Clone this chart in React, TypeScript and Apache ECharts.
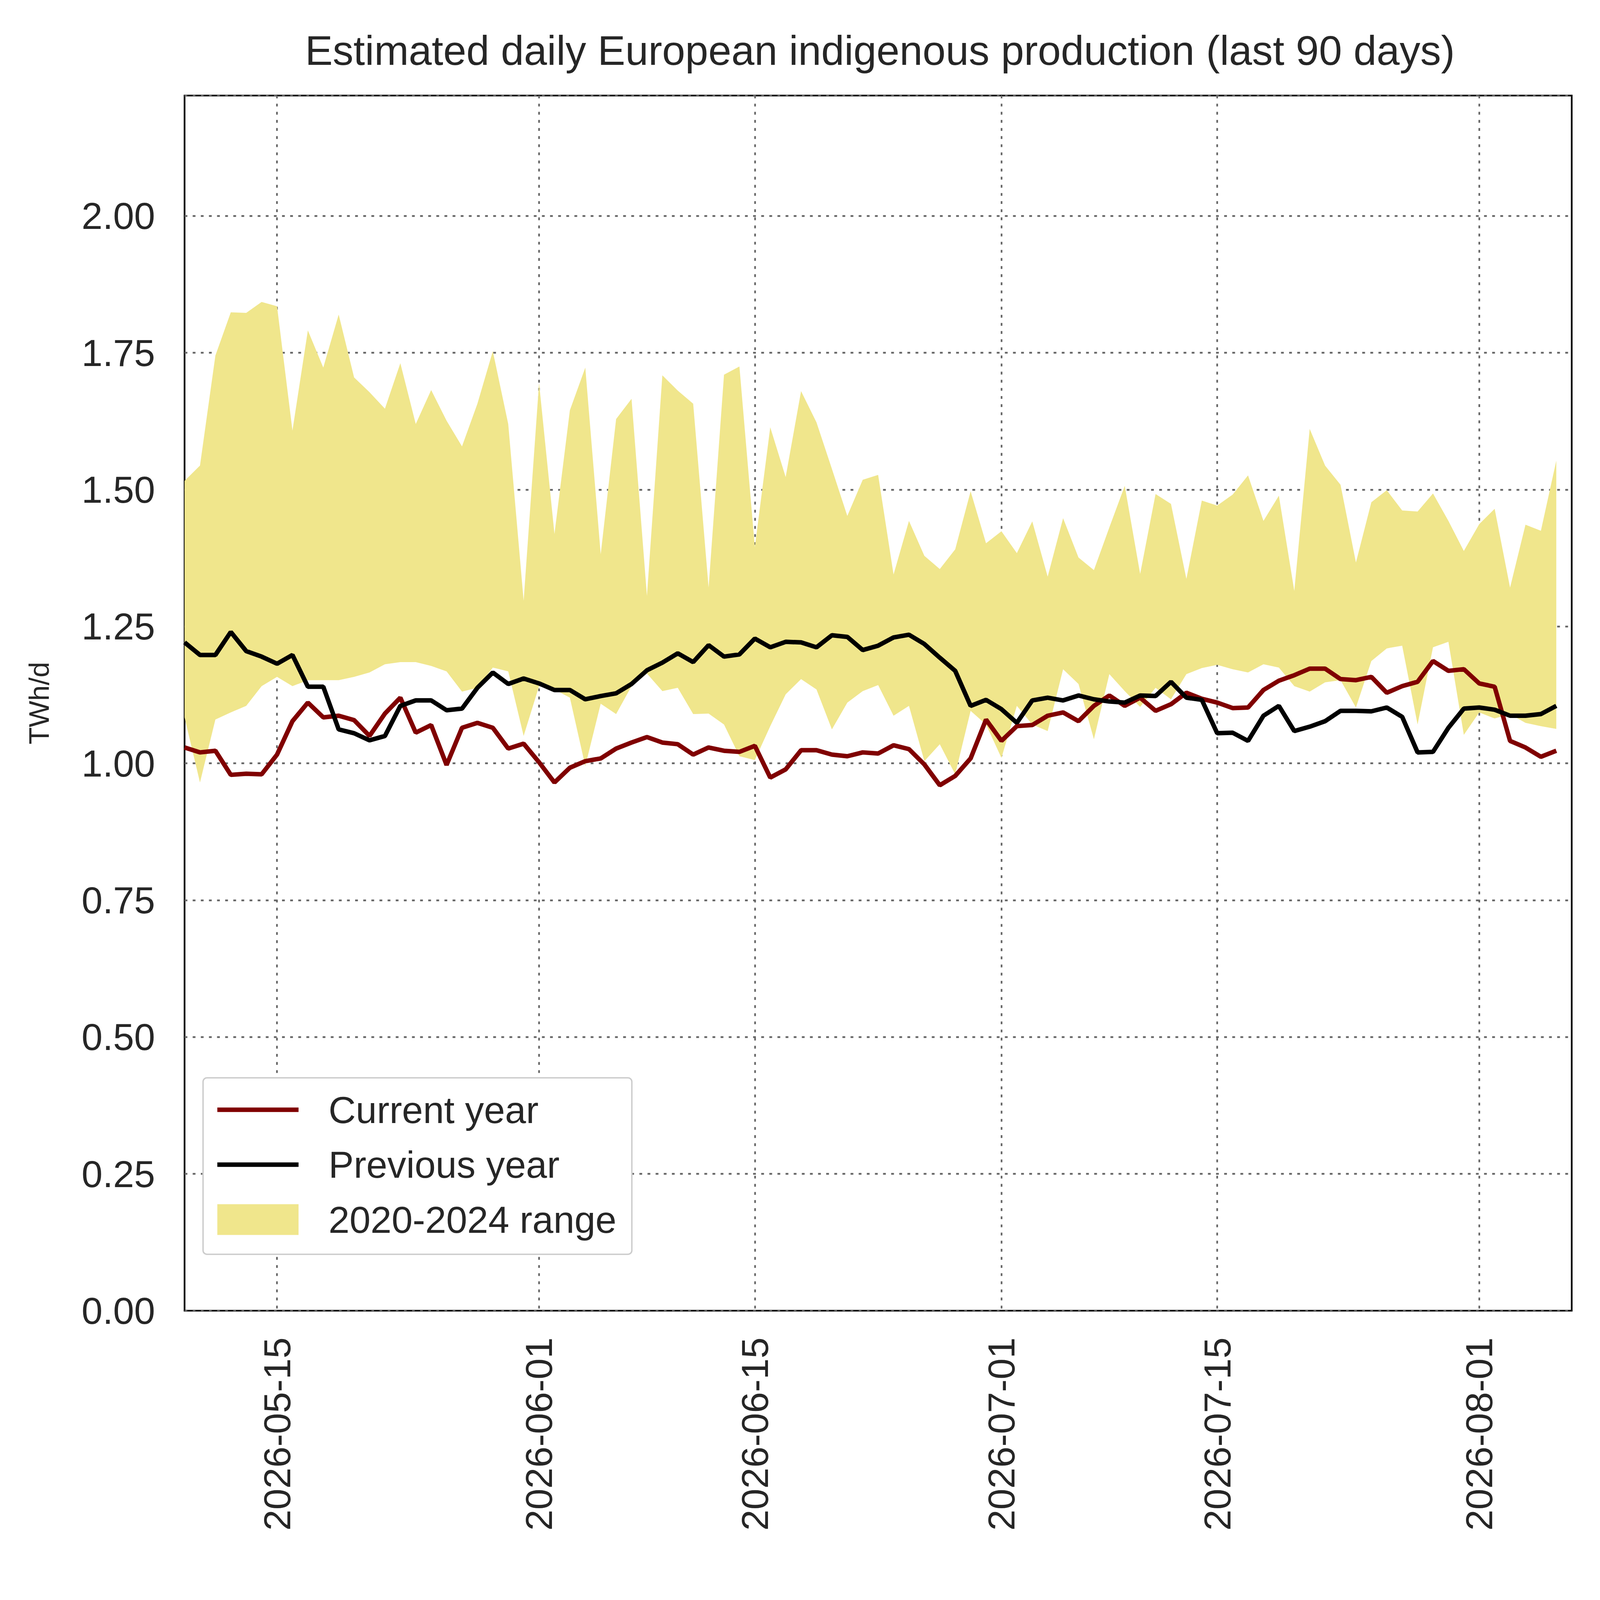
import React, { useEffect, useRef } from "react";
import * as echarts from "echarts";

// 90 days, 2026-05-09 .. 2026-08-06 (plus one empty day of padding)
const startDate = "2026-05-09";
const dayCount = 90;

const currentYear = [
  1.029, 1.02, 1.023, 0.979, 0.981, 0.98, 1.016, 1.077, 1.111, 1.084,
  1.087, 1.079, 1.05, 1.091, 1.12, 1.056, 1.07, 0.997, 1.065, 1.074,
  1.065, 1.027, 1.036, 1.002, 0.965, 0.992, 1.004, 1.009, 1.027, 1.038,
  1.048, 1.038, 1.035, 1.016, 1.029, 1.023, 1.021, 1.032, 0.974, 0.989,
  1.024, 1.024, 1.016, 1.013, 1.02, 1.018, 1.033, 1.026, 0.998, 0.96,
  0.977, 1.009, 1.08, 1.041, 1.068, 1.07, 1.087, 1.093, 1.077, 1.105,
  1.124, 1.105, 1.12, 1.096, 1.108, 1.129, 1.118, 1.111, 1.101, 1.102,
  1.134, 1.151, 1.161, 1.173, 1.173, 1.154, 1.152, 1.158, 1.129, 1.141,
  1.149, 1.187, 1.169, 1.172, 1.146, 1.14, 1.041, 1.029, 1.012, 1.023,
];

const previousYear = [
  1.221, 1.198, 1.198, 1.24, 1.205, 1.195, 1.182, 1.198, 1.14, 1.14,
  1.062, 1.055, 1.042, 1.05, 1.105, 1.115, 1.115, 1.097, 1.1, 1.138,
  1.166, 1.145, 1.155, 1.146, 1.134, 1.134, 1.117, 1.123, 1.128, 1.145,
  1.17, 1.184, 1.201, 1.185, 1.216, 1.195, 1.199, 1.228, 1.212, 1.222,
  1.221, 1.212, 1.234, 1.231, 1.207, 1.215, 1.23, 1.235, 1.218, 1.193,
  1.169, 1.105, 1.116, 1.099, 1.074, 1.115, 1.12, 1.115, 1.124, 1.117,
  1.113, 1.111, 1.124, 1.123, 1.149, 1.12, 1.116, 1.055, 1.056, 1.041,
  1.087, 1.105, 1.059, 1.067, 1.077, 1.096, 1.096, 1.095, 1.102, 1.085,
  1.02, 1.021, 1.065, 1.1, 1.102, 1.098, 1.087, 1.087, 1.09, 1.105,
];

const rangeMin = [
  1.084, 0.965, 1.08, 1.093, 1.105, 1.141, 1.158, 1.141, 1.152, 1.152,
  1.152, 1.158, 1.166, 1.181, 1.185, 1.185, 1.178, 1.168, 1.131, 1.138,
  1.175, 1.168, 1.05, 1.141, 1.135, 1.12, 0.995, 1.109, 1.09, 1.141,
  1.164, 1.132, 1.138, 1.09, 1.091, 1.071, 1.013, 1.006, 1.068, 1.126,
  1.154, 1.135, 1.062, 1.111, 1.132, 1.143, 1.087, 1.105, 1.004, 1.035,
  0.98, 1.096, 1.071, 1.01, 1.105, 1.071, 1.059, 1.172, 1.145, 1.044,
  1.163, 1.132, 1.103, 1.138, 1.117, 1.163, 1.174, 1.18, 1.172, 1.166,
  1.181, 1.175, 1.141, 1.131, 1.148, 1.152, 1.102, 1.187, 1.21, 1.215,
  1.071, 1.212, 1.222, 1.052, 1.093, 1.082, 1.09, 1.074, 1.068, 1.063,
];

const rangeMax = [
  1.516, 1.544, 1.745, 1.824, 1.823, 1.843, 1.835, 1.608, 1.791, 1.723,
  1.82, 1.705, 1.678, 1.648, 1.731, 1.62, 1.682, 1.626, 1.579, 1.657,
  1.753, 1.62, 1.297, 1.695, 1.419, 1.645, 1.723, 1.382, 1.629, 1.666,
  1.306, 1.709, 1.681, 1.657, 1.321, 1.71, 1.725, 1.395, 1.614, 1.523,
  1.68, 1.623, 1.538, 1.452, 1.518, 1.527, 1.345, 1.443, 1.379, 1.355,
  1.391, 1.497, 1.402, 1.424, 1.384, 1.442, 1.341, 1.448, 1.376, 1.353,
  1.431, 1.507, 1.346, 1.492, 1.474, 1.337, 1.48, 1.471, 1.491, 1.526,
  1.443, 1.489, 1.315, 1.611, 1.544, 1.509, 1.367, 1.477, 1.499, 1.462,
  1.46, 1.493, 1.443, 1.388, 1.437, 1.465, 1.321, 1.436, 1.425, 1.553,
];

const dateTicks = ["2026-05-15", "2026-06-01", "2026-06-15", "2026-07-01", "2026-07-15", "2026-08-01"];

const buildDates = () => {
  const out: string[] = [];
  const d0 = new Date(startDate + "T00:00:00Z");
  for (let i = 0; i <= dayCount; i++) {
    const d = new Date(d0.getTime() + i * 86400000);
    out.push(d.toISOString().slice(0, 10));
  }
  return out;
};

const FONT = "'Liberation Sans', Arial, sans-serif";
const TEXT = "#262626";
// thin horizontal bar inside a 290x110 box (corner specks keep the box size)
const lineIcon =
  "path://M0,0L0.01,0L0,0.01Z M0,47H290V63H0Z M290,110L289.99,110L290,109.99Z";

const App: React.FC = () => {
  const ref = useRef<HTMLDivElement | null>(null);

  useEffect(() => {
    document.body.style.margin = "0";
    document.documentElement.style.overflow = "hidden";
    if (!ref.current) return;
    const W = window.innerWidth || 5713;
    const H = window.innerHeight || 4906;
    const sx = W / 5713;
    const sy = H / 4906;
    const s = Math.min(sx, sy);
    const X = (v: number) => v * sx;
    const Y = (v: number) => v * sy;
    const S = (v: number) => v * s;

    const chart = echarts.init(ref.current, null, { renderer: "svg" });
    const dates = buildDates();
    const isTick = (_i: number, v: string) => dateTicks.includes(v);
    const bandWidth = rangeMax.map((v, i) => +(v - rangeMin[i]).toFixed(3));
    const gridLine = { color: "#666666", width: S(6), type: [S(10), S(19)] };

    chart.setOption({
      animation: false,
      backgroundColor: "#ffffff",
      textStyle: { fontFamily: FONT, color: TEXT },
      title: {
        text: "Estimated daily European indigenous production (last 90 days)",
        left: X(3135),
        top: Y(85),
        textAlign: "center",
        textStyle: { fontFamily: FONT, fontSize: S(148), fontWeight: "normal", color: TEXT },
      },
      grid: {
        left: X(659),
        right: X(101),
        top: Y(293),
        bottom: Y(887),
        show: true,
        borderColor: "#000000",
        borderWidth: S(6),
        backgroundColor: "transparent",
      },
      legend: {
        left: X(725),
        top: Y(3305),
        orient: "vertical",
        backgroundColor: "#ffffff",
        borderColor: "#cccccc",
        borderWidth: S(5),
        borderRadius: S(14),
        padding: [S(45), S(55), S(55), S(51)],
        itemWidth: S(290),
        itemHeight: S(110),
        itemGap: S(58),
        textStyle: {
          fontFamily: FONT,
          fontSize: S(135),
          lineHeight: S(138),
          color: TEXT,
          padding: [0, 0, 0, S(100)],
        },
        data: [
          { name: "Current year", icon: lineIcon },
          { name: "Previous year", icon: lineIcon },
          { name: "2020-2024 range", icon: "rect" },
        ],
      },
      xAxis: {
        type: "category",
        data: dates,
        boundaryGap: false,
        axisLine: { show: false },
        axisTick: { show: false },
        axisLabel: {
          interval: isTick,
          rotate: 90,
          margin: S(95),
          fontSize: S(135),
          fontFamily: FONT,
          color: TEXT,
        },
        splitLine: { show: true, interval: isTick, lineStyle: gridLine },
      },
      yAxis: {
        type: "value",
        min: 0,
        max: 2.22,
        interval: 0.25,
        name: "TWh/d",
        nameLocation: "middle",
        nameGap: X(470),
        nameTextStyle: { fontFamily: FONT, fontSize: S(100), color: TEXT },
        axisLine: { show: false },
        axisTick: { show: false },
        axisLabel: {
          margin: X(105),
          fontSize: S(135),
          fontFamily: FONT,
          color: TEXT,
          formatter: (v: number) => (v > 2.01 ? "" : v.toFixed(2)),
        },
        splitLine: { show: true, lineStyle: gridLine },
      },
      series: [
        {
          name: "range-lower",
          type: "line",
          stack: "band",
          data: rangeMin,
          symbol: "none",
          lineStyle: { width: 0, opacity: 0 },
          silent: true,
        },
        {
          name: "2020-2024 range",
          type: "line",
          stack: "band",
          data: bandWidth,
          symbol: "none",
          color: "#f0e68c",
          lineStyle: { width: 0, opacity: 0 },
          areaStyle: { color: "#f0e68c", opacity: 1 },
          silent: true,
        },
        {
          name: "Current year",
          type: "line",
          data: currentYear,
          symbol: "none",
          color: "#800000",
          lineStyle: { color: "#800000", width: S(16) },
        },
        {
          name: "Previous year",
          type: "line",
          data: previousYear,
          symbol: "none",
          color: "#000000",
          lineStyle: { color: "#000000", width: S(16) },
        },
      ],
    });
    return () => chart.dispose();
  }, []);

  return (
    <div
      ref={ref}
      style={{ position: "fixed", left: 0, top: 0, width: "100vw", height: "100vh" }}
    />
  );
};

export default App;
